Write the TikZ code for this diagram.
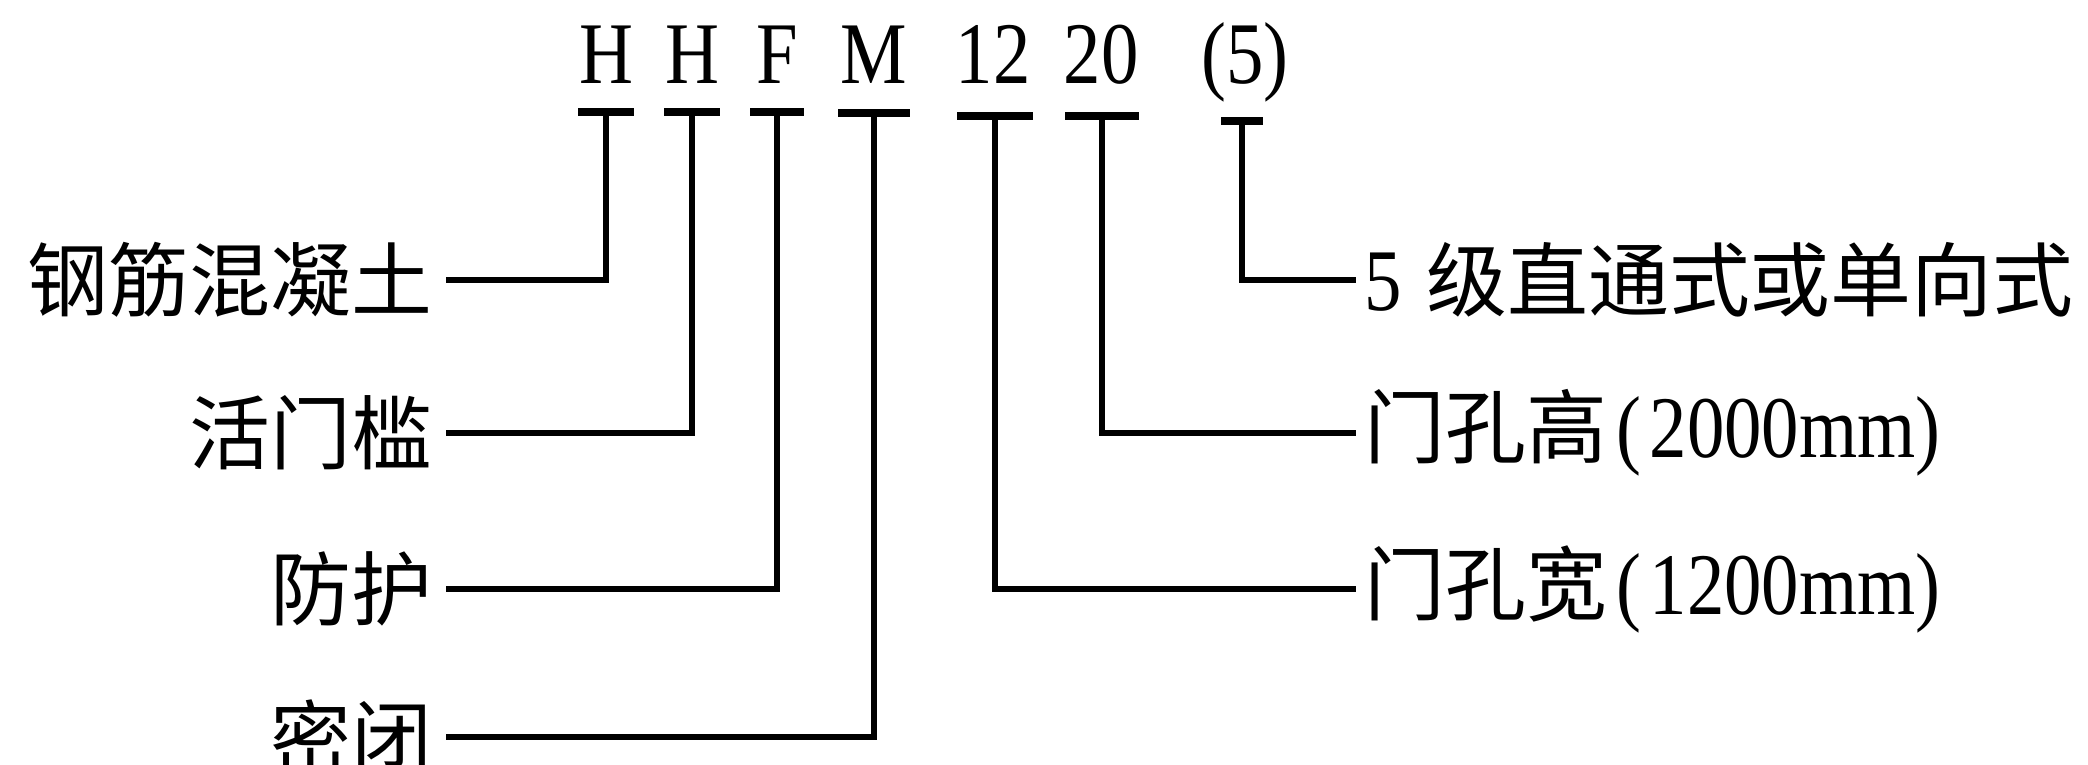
\documentclass[tikz,border=0pt]{standalone}
\usepackage{fontspec}
\setmainfont{Liberation Serif}
\newfontfamily\cjk{Noto Sans CJK SC}
\newfontfamily\codefont{Liberation Serif}[FakeStretch=0.85]
\newcommand{\latinpart}[1]{{\codefont\fontsize{25}{25}\selectfont #1}}
\usetikzlibrary{calc}

\begin{document}
\begin{tikzpicture}[x=0.01cm, y=-0.01cm,
    codelbl/.style={anchor=base, inner sep=0pt, font=\codefont\fontsize{25}{25}\selectfont},
    leftlbl/.style={anchor=east, inner xsep=0.13cm, inner ysep=0pt, font=\fontsize{23}{23}\selectfont\cjk},
    rightlbl/.style={anchor=west, inner xsep=0.08cm, inner ysep=0pt, font=\fontsize{23}{23}\selectfont},
    lead/.style={line width=1.5pt},
    tickbar/.style={line width=2.2pt}
]
\useasboundingbox (0,0) rectangle (2088,765);

% code row
\node[codelbl] (cH1) at (606,84) {H};
\node[codelbl] (cH2) at (692,84) {H};
\node[codelbl] (cF) at (777,84) {F};
\node[codelbl] (cM) at (874,84) {M};
\node[codelbl] (cW) at (993,84) {12};
\node[codelbl] (cG) at (1101,84) {20};
\node[codelbl] (cL) at (1245,84) {(5)};

% bars under the code
\coordinate (bH1) at (606,112);
\coordinate (bH2) at (692,112);
\coordinate (bF) at (777,112);
\coordinate (bM) at (874,113);
\coordinate (bW) at (995,116);
\coordinate (bG) at (1102,116);
\coordinate (bL) at (1242,121);
\draw[tickbar] ($(bH1)+(-28,0)$) -- ($(bH1)+(28,0)$);
\draw[tickbar] ($(bH2)+(-28,0)$) -- ($(bH2)+(28,0)$);
\draw[tickbar] ($(bF)+(-27,0)$) -- ($(bF)+(27,0)$);
\draw[tickbar] ($(bM)+(-36,0)$) -- ($(bM)+(36,0)$);
\draw[tickbar] ($(bW)+(-38,0)$) -- ($(bW)+(38,0)$);
\draw[tickbar] ($(bG)+(-37,0)$) -- ($(bG)+(37,0)$);
\draw[tickbar] ($(bL)+(-21,0)$) -- ($(bL)+(21,0)$);

% left labels
\node[leftlbl] (lC) at (446,280) {钢筋混凝土};
\node[leftlbl] (lT) at (446,433) {活门槛};
\node[leftlbl] (lP) at (446,589) {防护};
\node[leftlbl] (lS) at (446,737) {密闭};

% right labels
\node[rightlbl] (rL) at (1356,280) {\latinpart{5}\hspace{0.3em}{\cjk 级直通式或单向式}};
\node[rightlbl] (rG) at (1356,433) {{\cjk 门孔高}\latinpart{\hspace{0.1em}(\hspace{0.1em}2000mm)}};
\node[rightlbl] (rW) at (1356,589) {{\cjk 门孔宽}\latinpart{\hspace{0.1em}(\hspace{0.1em}1200mm)}};

% leaders
\draw[lead] (bH1) |- (lC.east);
\draw[lead] (bH2) |- (lT.east);
\draw[lead] (bF) |- (lP.east);
\draw[lead] (bM) |- (lS.east);
\draw[lead] (bL) |- (rL.west);
\draw[lead] (bG) |- (rG.west);
\draw[lead] (bW) |- (rW.west);
\end{tikzpicture}
\end{document}
